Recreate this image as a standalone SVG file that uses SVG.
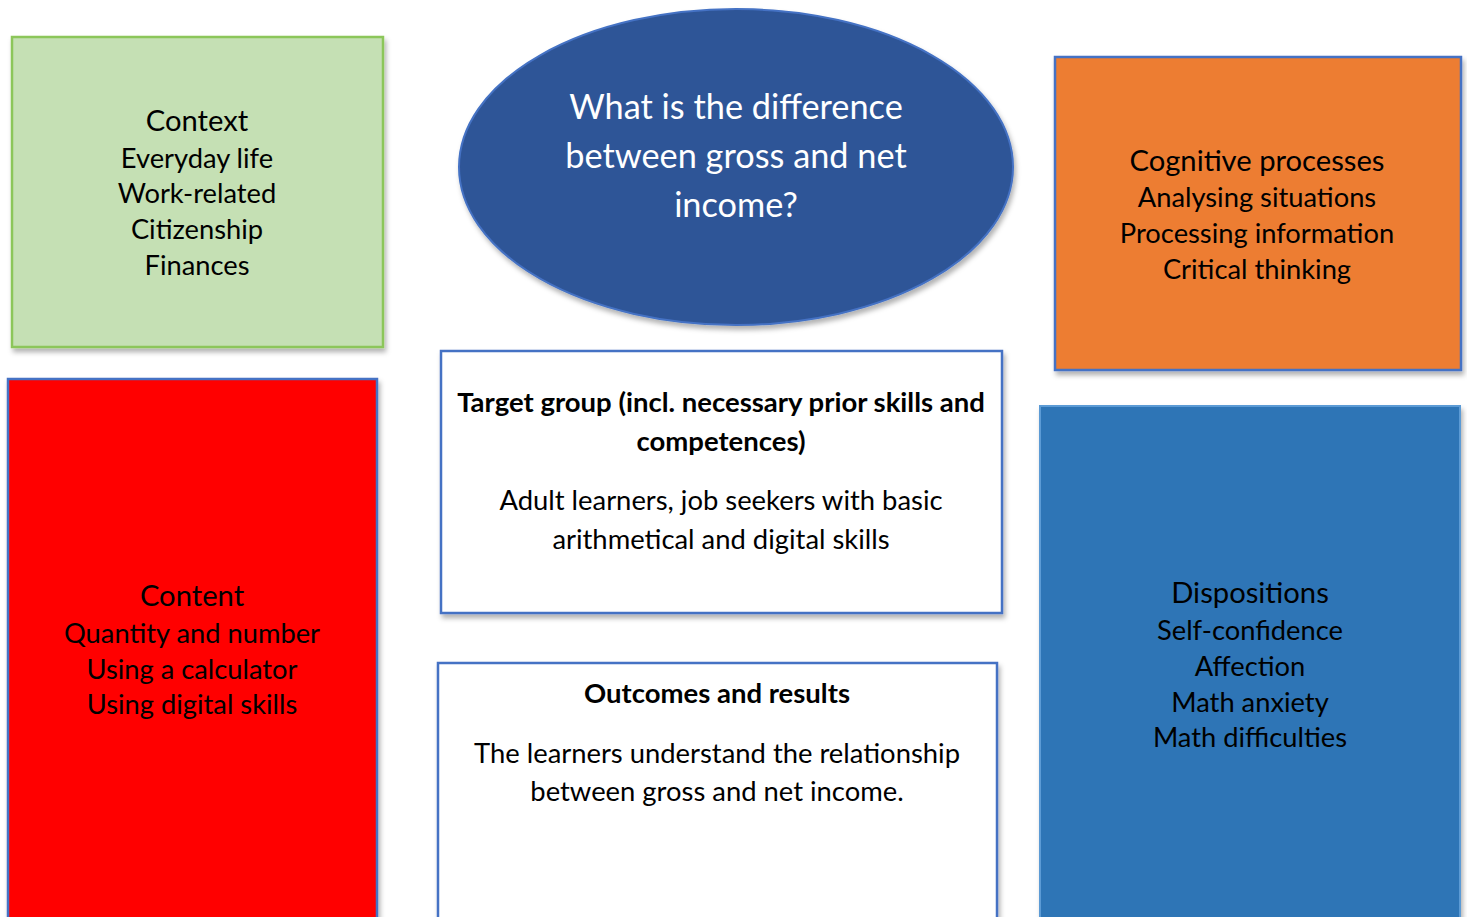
<svg xmlns="http://www.w3.org/2000/svg" width="1467" height="917" viewBox="0 0 1467 917">
<defs>
<filter id="sh" x="-5%" y="-5%" width="115%" height="115%">
<feDropShadow dx="2" dy="4" stdDeviation="2.5" flood-color="#000" flood-opacity="0.3"/>
</filter>
</defs>
<style>
text{font-family:Lato,"Liberation Sans",sans-serif;text-anchor:middle;fill:#000}
.t{font-size:29.2px}
.i{font-size:27.3px}
.b{font-size:27.5px;font-weight:bold}
.n{font-size:27.4px}
.w{fill:#fff;font-size:34.3px}
</style>
<rect width="1467" height="917" fill="#fff"/>
<g id="connectors"></g>
<g id="context">
<rect x="12" y="37" width="371" height="310" fill="#C5E0B4" stroke="#8CC65A" stroke-width="2.5" filter="url(#sh)"/>
<text class="t" x="197" y="131">Context</text>
<text class="i" x="197" y="168">Everyday life</text>
<text class="i" x="197" y="203">Work-related</text>
<text class="i" x="197" y="239">Citizenship</text>
<text class="i" x="197" y="275">Finances</text>
</g>
<g id="question">
<ellipse cx="736" cy="167" rx="277" ry="158" fill="#2F5597" stroke="#4472C4" stroke-width="2" filter="url(#sh)"/>
<text class="w" x="736" y="119">What is the difference</text>
<text class="w" x="736" y="168">between gross and net</text>
<text class="w" x="736" y="217">income?</text>
</g>
<g id="cognitive">
<rect x="1055" y="57" width="406" height="313" fill="#ED7D31" stroke="#4472C4" stroke-width="2.5" filter="url(#sh)"/>
<text class="t" x="1257" y="171">Cognitive processes</text>
<text class="i" x="1257" y="207">Analysing situations</text>
<text class="i" x="1257" y="243">Processing information</text>
<text class="i" x="1257" y="279">Critical thinking</text>
</g>
<g id="content">
<rect x="8" y="379" width="369" height="550" fill="#FF0000" stroke="#4472C4" stroke-width="2.5" filter="url(#sh)"/>
<text class="t" x="192" y="606">Content</text>
<text class="i" x="192" y="643">Quantity and number</text>
<text class="i" x="192" y="679">Using a calculator</text>
<text class="i" x="192" y="714">Using digital skills</text>
</g>
<g id="target">
<rect x="441" y="351" width="561" height="262" fill="#fff" stroke="#4472C4" stroke-width="2.5" filter="url(#sh)"/>
<text class="b" x="721" y="412">Target group (incl. necessary prior skills and</text>
<text class="b" x="721" y="451">competences)</text>
<text class="n" x="721" y="510">Adult learners, job seekers with basic</text>
<text class="n" x="721" y="549">arithmetical and digital skills</text>
</g>
<g id="outcomes">
<rect x="438" y="663" width="559" height="270" fill="#fff" stroke="#4472C4" stroke-width="2.5" filter="url(#sh)"/>
<text class="b" x="717" y="703">Outcomes and results</text>
<text class="n" x="717" y="763">The learners understand the relationship</text>
<text class="n" x="717" y="801">between gross and net income.</text>
</g>
<g id="dispositions">
<rect x="1040" y="406" width="420" height="530" fill="#2E75B6" stroke="#5B9BD5" stroke-width="2" filter="url(#sh)"/>
<text class="t" x="1250" y="603">Dispositions</text>
<text class="i" x="1250" y="640">Self-confidence</text>
<text class="i" x="1250" y="676">Affection</text>
<text class="i" x="1250" y="712">Math anxiety</text>
<text class="i" x="1250" y="747">Math difficulties</text>
</g>
</svg>
